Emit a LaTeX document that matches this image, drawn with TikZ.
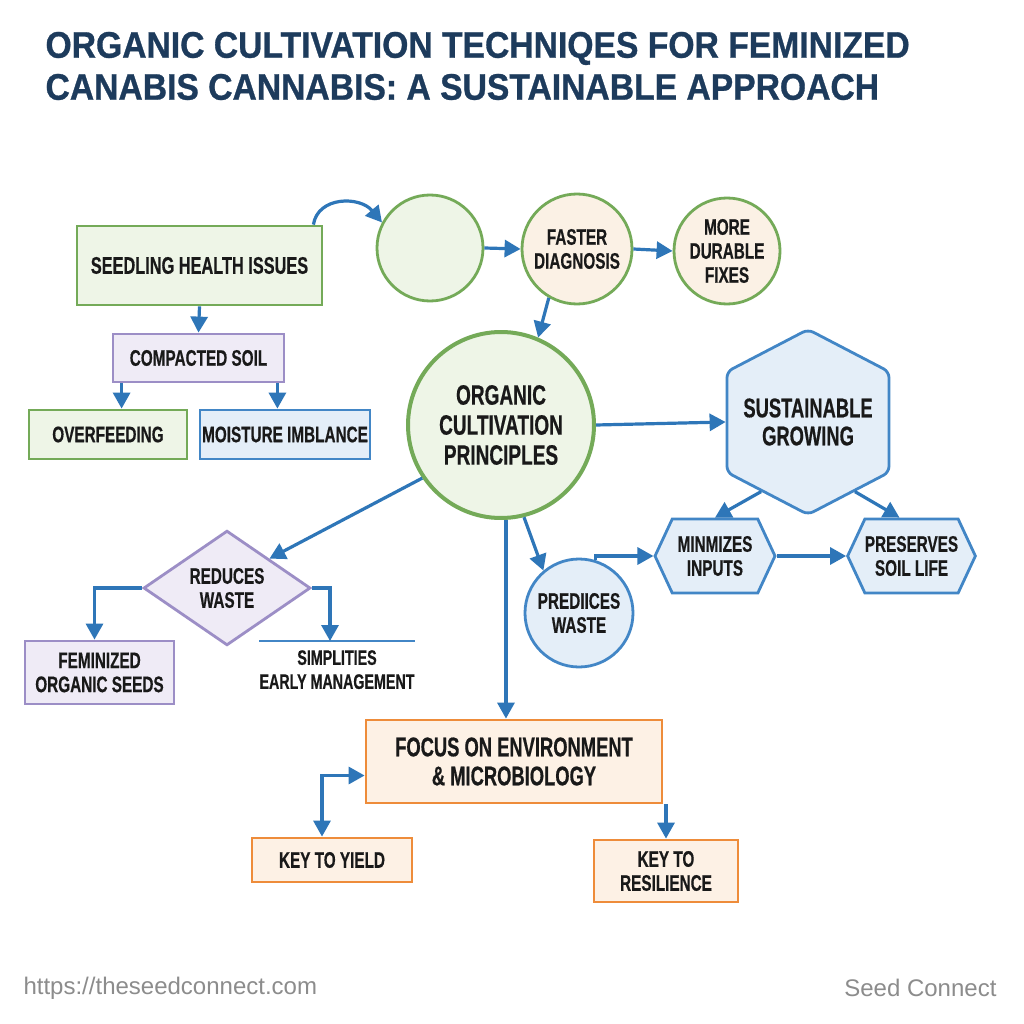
\documentclass[tikz,border=0pt]{standalone}
\usepackage{fontspec}
\setmainfont{Liberation Sans}
\newfontfamily\titlefont{Liberation Sans}[FakeStretch=0.91, FakeBold=0.8]
\newfontfamily\nodefont{Liberation Sans}[FakeStretch=0.68, FakeBold=0.5]
\usetikzlibrary{arrows.meta,shapes.geometric,shapes.symbols}

\definecolor{navy}{HTML}{1D3B5C}
\definecolor{arrowblue}{HTML}{2E76B8}
\definecolor{leafline}{HTML}{74AA58}
\definecolor{leaffill}{HTML}{EEF5E7}
\definecolor{peachfill}{HTML}{FBF1E5}
\definecolor{lilacline}{HTML}{9C8EC6}
\definecolor{lilacfill}{HTML}{EFEBF6}
\definecolor{skyline}{HTML}{4286C6}
\definecolor{skyfill}{HTML}{E4EEF8}
\definecolor{orangeline}{HTML}{EE8C3A}
\definecolor{orangefill}{HTML}{FDF1E5}
\definecolor{footgrey}{HTML}{8C8C8C}

\tikzset{
  base/.style={inner sep=0pt, align=center, text=black!90,
               font=\nodefont\bfseries\fontsize{22.5}{24}\selectfont},
  greenbox/.style={base, rectangle, draw=leafline, fill=leaffill, line width=2.8pt},
  lilacbox/.style={base, rectangle, draw=lilacline, fill=lilacfill, line width=2.8pt},
  skybox/.style={base, rectangle, draw=skyline, fill=skyfill, line width=2.8pt},
  orangebox/.style={base, rectangle, draw=orangeline, fill=orangefill, line width=2.8pt},
  greenring/.style={base, circle, draw=leafline, line width=2.8pt},
  skyhex/.style={base, signal, draw=skyline, fill=skyfill, line width=2.8pt},
  arr/.style={draw=arrowblue, line width=3.2pt, -{Triangle[length=16pt,width=17pt]}},
  arrboth/.style={draw=arrowblue, line width=3.2pt,
                  {Triangle[length=16pt,width=17pt]}-{Triangle[length=16pt,width=17pt]}}
}

\begin{document}
\begin{tikzpicture}[x=1pt,y=-1pt]
  \useasboundingbox[fill=white] (0,0) rectangle (1024,1024);

  % title
  \node[anchor=west, align=left, text=navy,
        font=\titlefont\bfseries\fontsize{37}{42}\selectfont] (title) at (42,66)
    {ORGANIC CULTIVATION TECHNIQES FOR FEMINIZED\\CANABIS CANNABIS: A SUSTAINABLE APPROACH};

  % upper left branch
  \node[greenbox, minimum width=245pt, minimum height=79pt,
        font=\nodefont\bfseries\fontsize{24}{28}\selectfont] (seed) at (199.5,265.5)
    {SEEDLING HEALTH ISSUES};
  \node[lilacbox, minimum width=171pt, minimum height=48pt] (compact) at (198.5,358) {COMPACTED SOIL};
  \node[greenbox, minimum width=158pt, minimum height=49pt] (overfeed) at (108,434.5) {OVERFEEDING};
  \node[skybox, minimum width=170pt, minimum height=49pt] (moist) at (285,434.5) {MOISTURE IMBLANCE};

  % top row of circles
  \node[greenring, fill=leaffill, minimum size=106pt] (blank) at (430,248) {};
  \node[greenring, fill=peachfill, minimum size=110pt] (faster) at (577,249) {FASTER\\DIAGNOSIS};
  \node[greenring, fill=peachfill, minimum size=106pt] (durable) at (727,251) {MORE\\DURABLE\\FIXES};

  % centre
  \node[greenring, fill=leaffill, line width=4pt, minimum size=186pt,
        font=\nodefont\bfseries\fontsize{28}{30}\selectfont] (principles) at (501,425)
    {ORGANIC\\CULTIVATION\\PRINCIPLES};

  % right branch
  \node[skyhex, signal to=north and south, signal pointer angle=125, rounded corners=6pt,
        minimum width=162pt, minimum height=168pt,
        font=\nodefont\bfseries\fontsize{27}{28}\selectfont] (sustain) at (808,422)
    {SUSTAINABLE\\GROWING};
  \node[skyhex, signal to=east and west, signal pointer angle=130,
        minimum width=120pt, minimum height=74pt] (minim) at (715,556) {MINMIZES\\INPUTS};
  \node[skyhex, signal to=east and west, signal pointer angle=130,
        minimum width=123pt, minimum height=74pt] (preserve) at (911.5,556) {PRESERVES\\SOIL LIFE};
  \node[base, circle, draw=skyline, fill=skyfill, line width=2.8pt, minimum size=108pt] (predices)
    at (579,613) {PREDIICES\\WASTE};

  % lower left branch
  \node[base, diamond, draw=lilacline, fill=lilacfill, line width=2.8pt,
        minimum width=167pt, minimum height=110pt] (reduce) at (227,588) {REDUCES\\WASTE};
  \node[lilacbox, minimum width=149pt, minimum height=63pt] (seeds) at (99.5,672.5)
    {FEMINIZED\\ORGANIC SEEDS};
  \node[base, anchor=north, minimum width=137pt, inner ysep=9pt,
        font=\nodefont\bfseries\fontsize{21}{24}\selectfont] (simplify) at (337,641)
    {SIMPLITIES\\EARLY MANAGEMENT};
  \draw[skyline, line width=2.8pt] (simplify.north west) -- (simplify.north east);

  % bottom
  \node[orangebox, minimum width=296pt, minimum height=83pt,
        font=\nodefont\bfseries\fontsize{27}{29}\selectfont] (focus) at (514,761.5)
    {FOCUS ON ENVIRONMENT\\\& MICROBIOLOGY};
  \node[orangebox, minimum width=160pt, minimum height=44pt] (yield) at (332,860) {KEY TO YIELD};
  \node[orangebox, minimum width=144pt, minimum height=62pt] (resil) at (666,871) {KEY TO\\RESILIENCE};

  % footer
  \node[anchor=west, text=footgrey, font=\fontsize{24}{28}\selectfont] (url) at (20,988)
    {https://theseedconnect.com};
  \node[anchor=east, text=footgrey, font=\fontsize{24}{28}\selectfont] (brand) at (1000,988)
    {Seed Connect};

  % connectors
  \draw[arr] ([xshift=-10pt]seed.north east) .. controls (318,196) and (360,196) .. (blank.152);
  \draw[arr] (blank.east) -- (faster.west);
  \draw[arr] (faster.east) -- (durable.west);
  \draw[arr] (faster.240) -- (principles.67);
  \draw[arr] (seed.south) -- (compact.north);
  \draw[arr] ([xshift=10pt]compact.south west) -- ([xshift=10pt]compact.south west |- overfeed.north);
  \draw[arr] ([xshift=-8pt]compact.south east) -- ([xshift=-8pt]compact.south east |- moist.north);
  \draw[arr] (principles.east) -- (sustain.west);
  \draw[arr] (sustain.236) -- (minim.north);
  \draw[arr] (sustain.304) -- ([xshift=-12pt]preserve.north);
  \draw[arr] (minim.east) -- (preserve.west);
  \draw[arr] (principles.-76) -- (predices.130);
  \draw[arr] (predices.73) |- (minim.west);
  \draw[arr] (principles.214) -- (reduce.north east);
  \draw[arr] (reduce.west) -| ([xshift=-5pt]seeds.north);
  \draw[arr] (reduce.east) -| ([xshift=-7pt]simplify.north);
  \draw[arr] (principles.-87) -- (principles.-87 |- focus.north);
  \draw[arrboth] ([xshift=-10pt]yield.north) |- ([yshift=-14pt]focus.west);
  \draw[arr] (resil.north |- focus.south) -- (resil.north);
\end{tikzpicture}
\end{document}
